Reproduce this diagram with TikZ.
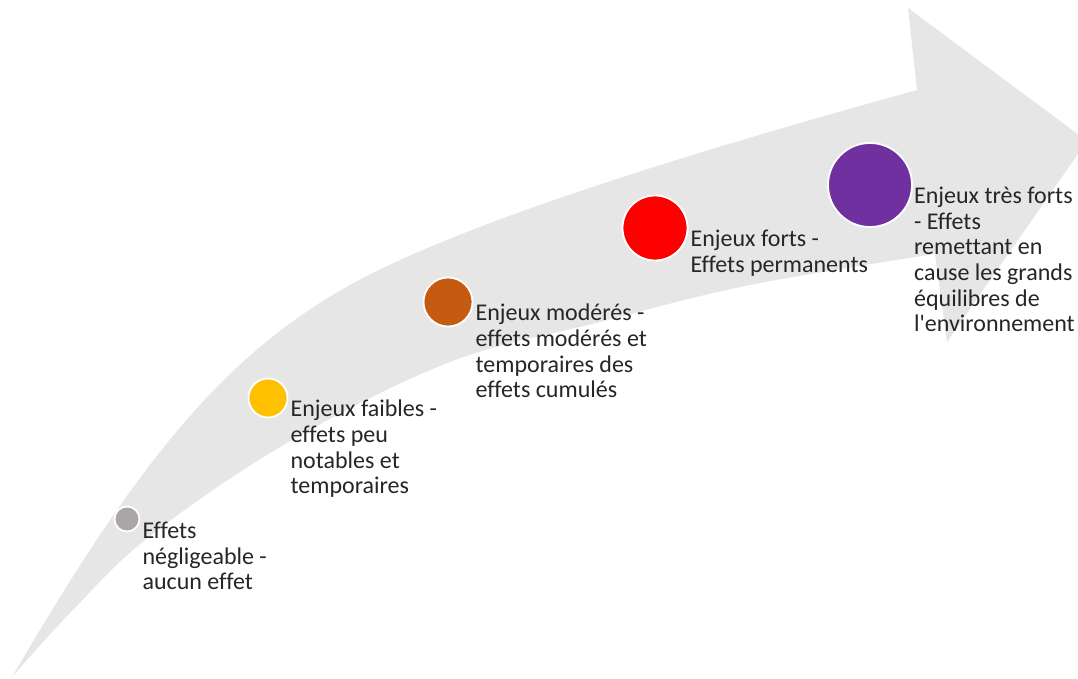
\documentclass[tikz,border=0pt]{standalone}
\usepackage{fontspec}
\setmainfont{Carlito}[Ligatures=NoCommon]

\definecolor{bandgrey}{HTML}{E6E6E6}
\definecolor{textgrey}{HTML}{262626}
\definecolor{neglgrey}{HTML}{AAA6A6}
\definecolor{faibleyellow}{HTML}{FFC000}
\definecolor{modereorange}{HTML}{C55A11}
\definecolor{fortred}{HTML}{FF0000}
\definecolor{tresfortpurple}{HTML}{7030A0}

\begin{document}
\begin{tikzpicture}[
    x=1pt, y=-1pt,
    every node/.style={font=\fontsize{24}{25.6}\selectfont, text=textgrey},
    dot/.style={circle, draw=white, line width=1.8pt, inner sep=0pt},
    level text/.style={align=left, inner sep=0pt, anchor=north west, execute at begin node=\strut}
]
\useasboundingbox (0,0) rectangle (1078,679);
\clip (0,0) rectangle (1078,679);

% Arrow
\fill[bandgrey] (12,677) .. controls (133,470) and (219,358) .. (350,285)
    .. controls (481,212) and (773,130) .. (917,90)
    -- (908,8) -- (1087,141) -- (947,342) -- (935,254)
    -- plot[smooth, tension=0.6] coordinates {(935,254) (750,285) (600,322) (450,362) (287,443) (150,536) (70,613) (12,677)}
    -- cycle;

% Nodes
\node[dot, fill=neglgrey, minimum size=25pt] (negl) at (127,519) {};
\node[dot, fill=faibleyellow, minimum size=39pt] (faible) at (268,398) {};
\node[dot, fill=modereorange, minimum size=49pt] (modere) at (448,302) {};
\node[dot, fill=fortred, minimum size=65pt] (fort) at (655,228) {};
\node[dot, fill=tresfortpurple, minimum size=84pt] (tresfort) at (870,185) {};

% Labels
\node[level text] (negl text) at ([xshift=2pt, yshift=-3pt]negl.east) {Effets\\négligeable -\\aucun effet};
\node[level text] (faible text) at ([xshift=2pt, yshift=-2pt]faible.east) {Enjeux faibles -\\effets peu\\notables et\\temporaires};
\node[level text] (modere text) at ([xshift=2pt, yshift=-2pt]modere.east) {Enjeux modérés -\\effets modérés et\\temporaires des\\effets cumulés};
\node[level text] (fort text) at ([xshift=2pt, yshift=-2pt]fort.east) {Enjeux forts -\\Effets permanents};
\node[level text] (tresfort text) at ([xshift=1pt, yshift=-2pt]tresfort.east) {Enjeux très forts\\- Effets\\remettant en\\cause les grands\\équilibres de\\l\textquotesingle environnement};

\end{tikzpicture}
\end{document}
